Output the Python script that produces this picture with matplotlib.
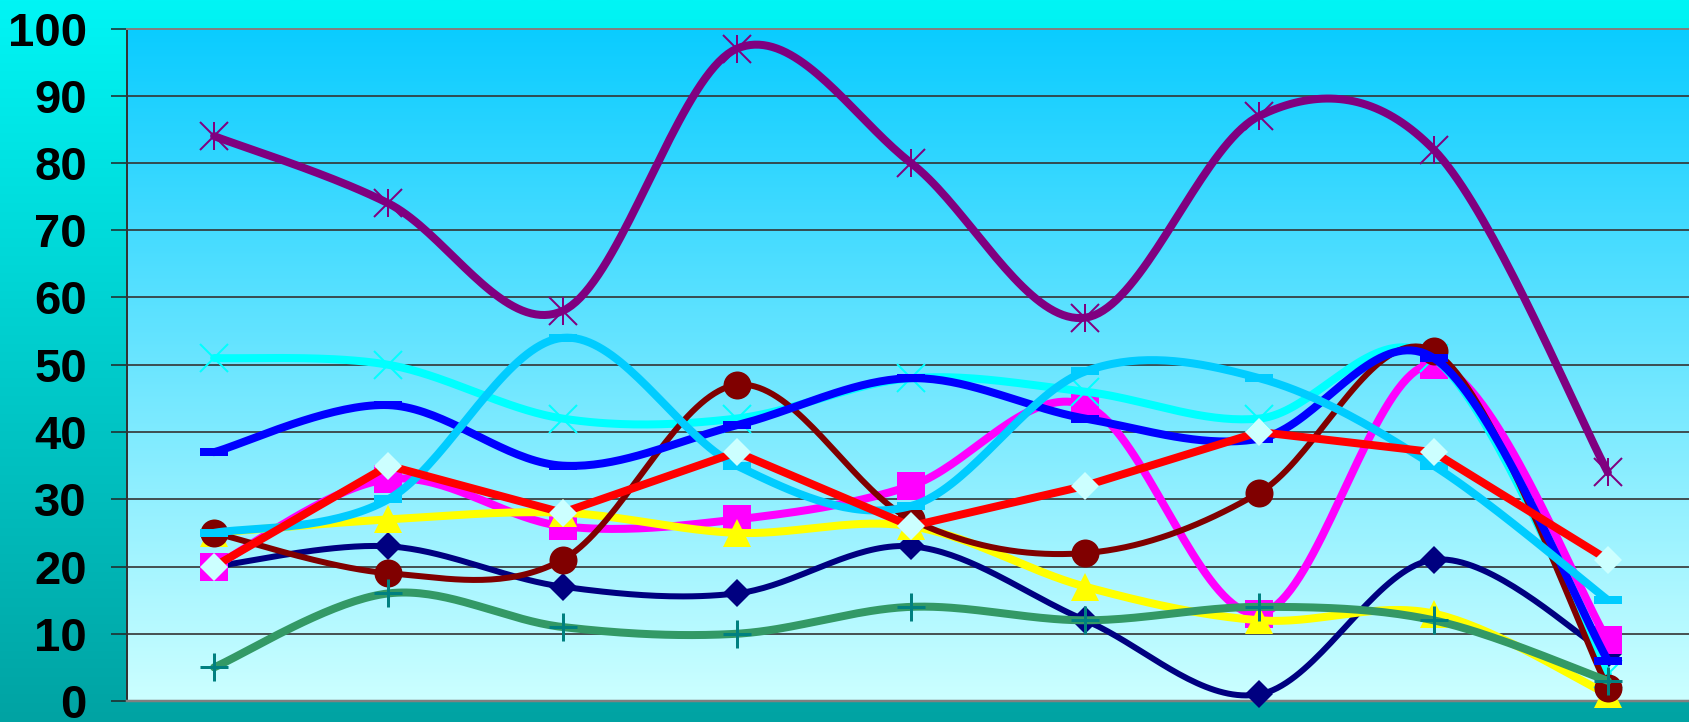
import numpy as np
import matplotlib
matplotlib.use("Agg")
import matplotlib.pyplot as plt
from matplotlib.path import Path
from matplotlib.colors import LinearSegmentedColormap

# ---------------- data ----------------
categories = ["1", "2", "3", "4", "5", "6", "7", "8", "9"]
navy_vals = [20, 23, 17, 16, 23, 12, 1, 21, 7]
magenta_vals = [20, 33, 26, 27, 32, 44, 13, 50, 9]
yellow_vals = [25, 27, 28, 25, 26, 17, 12, 13, 1]
cyan_vals = [51, 50, 42, 42, 48, 46, 42, 51, 4]
purple_vals = [84, 74, 58, 97, 80, 57, 87, 82, 34]
maroon_vals = [25, 19, 21, 47, 27, 22, 31, 52, 2]
green_vals = [5, 16, 11, 10, 14, 12, 14, 12, 3]
blue_vals = [37, 44, 35, 41, 48, 42, 39, 51, 6]
lightblue_vals = [25, 30, 54, 35, 29, 49, 48, 35, 15]
red_vals = [20, 35, 28, 37, 26, 32, 40, 37, 21]
y_ticks = [0, 10, 20, 30, 40, 50, 60, 70, 80, 90, 100]

# ---------------- helpers ----------------
def smooth_curve(xs, ys, n=40):
    P = np.column_stack([np.asarray(xs, float), np.asarray(ys, float)])
    out = []
    t = np.linspace(0, 1, n)[:, None]
    for i in range(len(P) - 1):
        p0 = P[i - 1] if i > 0 else P[i]
        p1 = P[i]
        p2 = P[i + 1]
        p3 = P[i + 2] if i + 2 < len(P) else P[i + 1]
        c1 = p1 + (p2 - p0) / 6.0
        c2 = p2 - (p3 - p1) / 6.0
        seg = ((1 - t) ** 3) * p1 + 3 * ((1 - t) ** 2) * t * c1 + 3 * (1 - t) * (t ** 2) * c2 + (t ** 3) * p2
        out.append(seg if i == 0 else seg[1:])
    out = np.vstack(out)
    return out[:, 0], out[:, 1]

dash_marker = Path([(-0.5, -0.13), (0.5, -0.13), (0.5, 0.13), (-0.5, 0.13), (-0.5, -0.13)],
                   [Path.MOVETO, Path.LINETO, Path.LINETO, Path.LINETO, Path.CLOSEPOLY])

W, H = 1690, 722
fig = plt.figure(figsize=(W / 100, H / 100), dpi=100)

# figure background gradient
bg = fig.add_axes([0, 0, 1, 1], zorder=-5)
bg_cmap = LinearSegmentedColormap.from_list("bg", [(0, "#00A3A3"), (1, "#00F5F5")])
bg.imshow(np.linspace(0, 1, 256)[:, None], aspect="auto", cmap=bg_cmap, origin="lower",
          extent=[0, 1, 0, 1])
bg.set_axis_off()

left = 127 / W
right = 1695 / W
bottom = (H - 701) / H
top = (H - 28.5) / H
ax = fig.add_axes([left, bottom, right - left, top - bottom])
ax.patch.set_visible(False)

plot_cmap = LinearSegmentedColormap.from_list("pa", [(0, "#CCFFFF"), (1, "#0ACCFF")])
ax.imshow(np.linspace(0, 1, 256)[:, None], aspect="auto", cmap=plot_cmap, origin="lower",
          extent=[0, 1, 0, 1], transform=ax.transAxes, zorder=0)

x = np.arange(len(categories))
ax.set_xlim(-0.5, len(categories) - 0.5)
ax.set_ylim(0, 100)

for v in y_ticks[1:-1]:
    ax.axhline(v, color="#333333", lw=1.2, zorder=1)

PX = 72 / 100.0  # px -> pt
thick = 8 * PX
medium = 6 * PX
msz = 28 * PX
dsz = 28 / np.sqrt(2) * PX

series = [
    # values, line colour, lw, marker, marker colour, mew, smooth, size
    (navy_vals, "#000080", medium, "D", "#000080", 0, True, dsz),
    (magenta_vals, "#FF00FF", thick, "s", "#FF00FF", 0, True, msz),
    (yellow_vals, "#FFFF00", thick, "^", "#FFFF00", 0, True, msz),
    (cyan_vals, "#00FFFF", thick, "x", "#00FFFF", 2 * PX, True, msz),
    (purple_vals, "#800080", thick, "asterisk", "#800080", 2 * PX, True, msz),
    (maroon_vals, "#800000", medium, "o", "#800000", 0, True, msz),
    (green_vals, "#339966", thick, "+", "#008080", 3 * PX, True, msz),
    (blue_vals, "#0000FF", thick, dash_marker, "#0000FF", 0, True, msz),
    (lightblue_vals, "#00CCFF", thick, dash_marker, "#00CCFF", 0, True, msz),
    (red_vals, "#FF0000", thick, "D", "#CCFFFF", 0, False, dsz),
]

for k, (vals, lc, lw, mk, mc, mew, sm, ms) in enumerate(series):
    z = 3 + 2 * k
    if sm:
        cx, cy = smooth_curve(x, vals)
    else:
        cx, cy = x, np.asarray(vals, float)
    ax.plot(cx, cy, color=lc, lw=lw, solid_capstyle="round", solid_joinstyle="round",
            zorder=z, clip_on=False)
    if isinstance(mk, str) and mk == "asterisk":
        ax.plot(x, vals, linestyle="none", marker="x", ms=ms, mec=mc, mew=mew, zorder=z + 1, clip_on=False)
        ax.plot(x, vals, linestyle="none", marker="|", ms=ms, mec=mc, mew=mew, zorder=z + 1, clip_on=False)
    elif isinstance(mk, str) and mk in ("x", "+"):
        ax.plot(x, vals, linestyle="none", marker=mk, ms=ms, mec=mc, mew=mew, zorder=z + 1, clip_on=False)
    else:
        ax.plot(x, vals, linestyle="none", marker=mk, ms=ms, mfc=mc, mec="none", mew=0,
                zorder=z + 1, clip_on=False)

# spines
ax.spines["right"].set_visible(False)
ax.spines["top"].set_color("#808080")
ax.spines["top"].set_linewidth(2 * PX)
ax.spines["bottom"].set_color("#808080")
ax.spines["bottom"].set_linewidth(2.5 * PX)
ax.spines["left"].set_color("#333333")
ax.spines["left"].set_linewidth(2 * PX)
for s in ax.spines.values():
    s.set_zorder(2)

ax.set_xticks(x)
ax.set_xticklabels([])
ax.tick_params(axis="x", length=0)
ax.set_yticks(y_ticks)
ax.set_yticklabels([str(v) for v in y_ticks], fontfamily="Liberation Sans",
                   fontweight="bold", fontsize=34, color="black")
ax.tick_params(axis="y", direction="out", length=16 * PX, width=1.5 * PX, color="#222222",
               pad=24 * PX)

fig.savefig("out.png", dpi=100)
